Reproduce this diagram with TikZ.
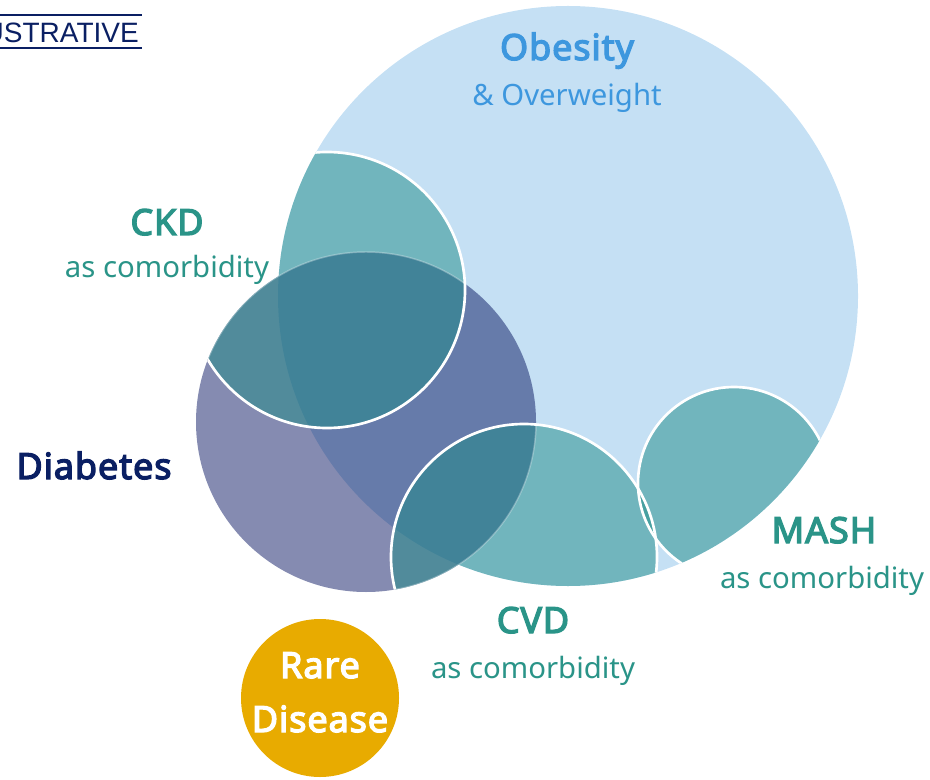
\documentclass[tikz,border=0pt]{standalone}
\usepackage{fontspec}
\setmainfont{Noto Sans}
\newfontfamily\lblbold{Noto Sans}[FakeBold=3.6, LetterSpace=2.5]
\newfontfamily\arialfont{Liberation Sans}
\definecolor{obfill}{RGB}{197,224,244}
\definecolor{dbfill}{RGB}{0,13,91}
\definecolor{tlfill}{RGB}{30,140,135}
\definecolor{obtext}{RGB}{61,151,222}
\definecolor{tltext}{RGB}{42,148,136}
\definecolor{dbtext}{RGB}{10,31,99}
\definecolor{rarefill}{RGB}{232,171,0}
\begin{document}
\begin{tikzpicture}[x=0.75pt,y=-0.75pt,
  lbl/.style={inner sep=0pt, anchor=base},
  boldlbl/.style={lbl, font=\lblbold\fontsize{27}{32}\selectfont},
  sublbl/.style={lbl, font=\fontsize{22}{26}\selectfont},
  rim/.style={white, line width=2pt},
  seam/.style={white, opacity=0.3, line width=1.1pt},
  comfill/.style={fill=tlfill, fill opacity=0.5},
  rule/.style={dbtext, line width=1.5pt}]
\useasboundingbox (0,0) rectangle (930,780);
\coordinate (O) at (568,296);
\coordinate (D) at (366,422);
\coordinate (K) at (327,290);
\coordinate (V) at (524,557);
\coordinate (M) at (734,483);

% Obesity and diabetes
\fill[obfill] (O) circle (290);
\fill[dbfill, fill opacity=0.48] (D) circle (170);

% comorbidities, kept inside obesity or diabetes
\begin{scope}
  \clip (O) circle (290) (D) circle (170);
  \fill[comfill] (K) circle (138);
  \fill[comfill] (V) circle (133);
  \fill[comfill] (M) circle (96);
  \begin{scope}
    \clip (K) circle (138) (V) circle (133);
    \draw[seam] (D) circle (170);
  \end{scope}
  \draw[rim] (K) circle (138);
  \draw[rim] (V) circle (133);
  \draw[rim] (M) circle (96);
\end{scope}

% Rare disease
\node[circle, fill=rarefill, minimum size=118.5pt, inner sep=0pt] (rare) at (320,698) {};
\node[boldlbl, text=white] (rareA) at (320,678) {Rare};
\node[boldlbl, text=white] (rareB) at (320,732) {Disease};

% labels
\node[boldlbl, text=obtext] (obA) at (567,60) {Obesity};
\node[lbl, font=\fontsize{22}{26}\selectfont, text=obtext] (obB) at (567,106) {\& Overweight};
\node[boldlbl, text=tltext] (ckdA) at (167,235) {CKD};
\node[sublbl, text=tltext] (ckdB) at (167,277) {as comorbidity};
\node[boldlbl, text=dbtext] (dbA) at (94,479) {Diabetes};
\node[boldlbl, text=tltext] (mashA) at (824,543) {MASH};
\node[sublbl, text=tltext] (mashB) at (822,588) {as comorbidity};
\node[boldlbl, text=tltext] (cvdA) at (533,633) {CVD};
\node[sublbl, text=tltext] (cvdB) at (533,678) {as comorbidity};

% illustrative tag
\node[inner sep=0pt, anchor=base east, text=dbtext, font=\arialfont\fontsize{21}{24}\selectfont] (ill) at (139,42.7) {USTRATIVE};
\coordinate (ruleTL) at (-2,15.3);
\coordinate (ruleTR) at (142,15.3);
\coordinate (ruleBL) at (-2,48.3);
\coordinate (ruleBR) at (142,48.3);
\draw[rule] (ruleTL) -- (ruleTR);
\draw[rule] (ruleBL) -- (ruleBR);
\end{tikzpicture}
\end{document}
